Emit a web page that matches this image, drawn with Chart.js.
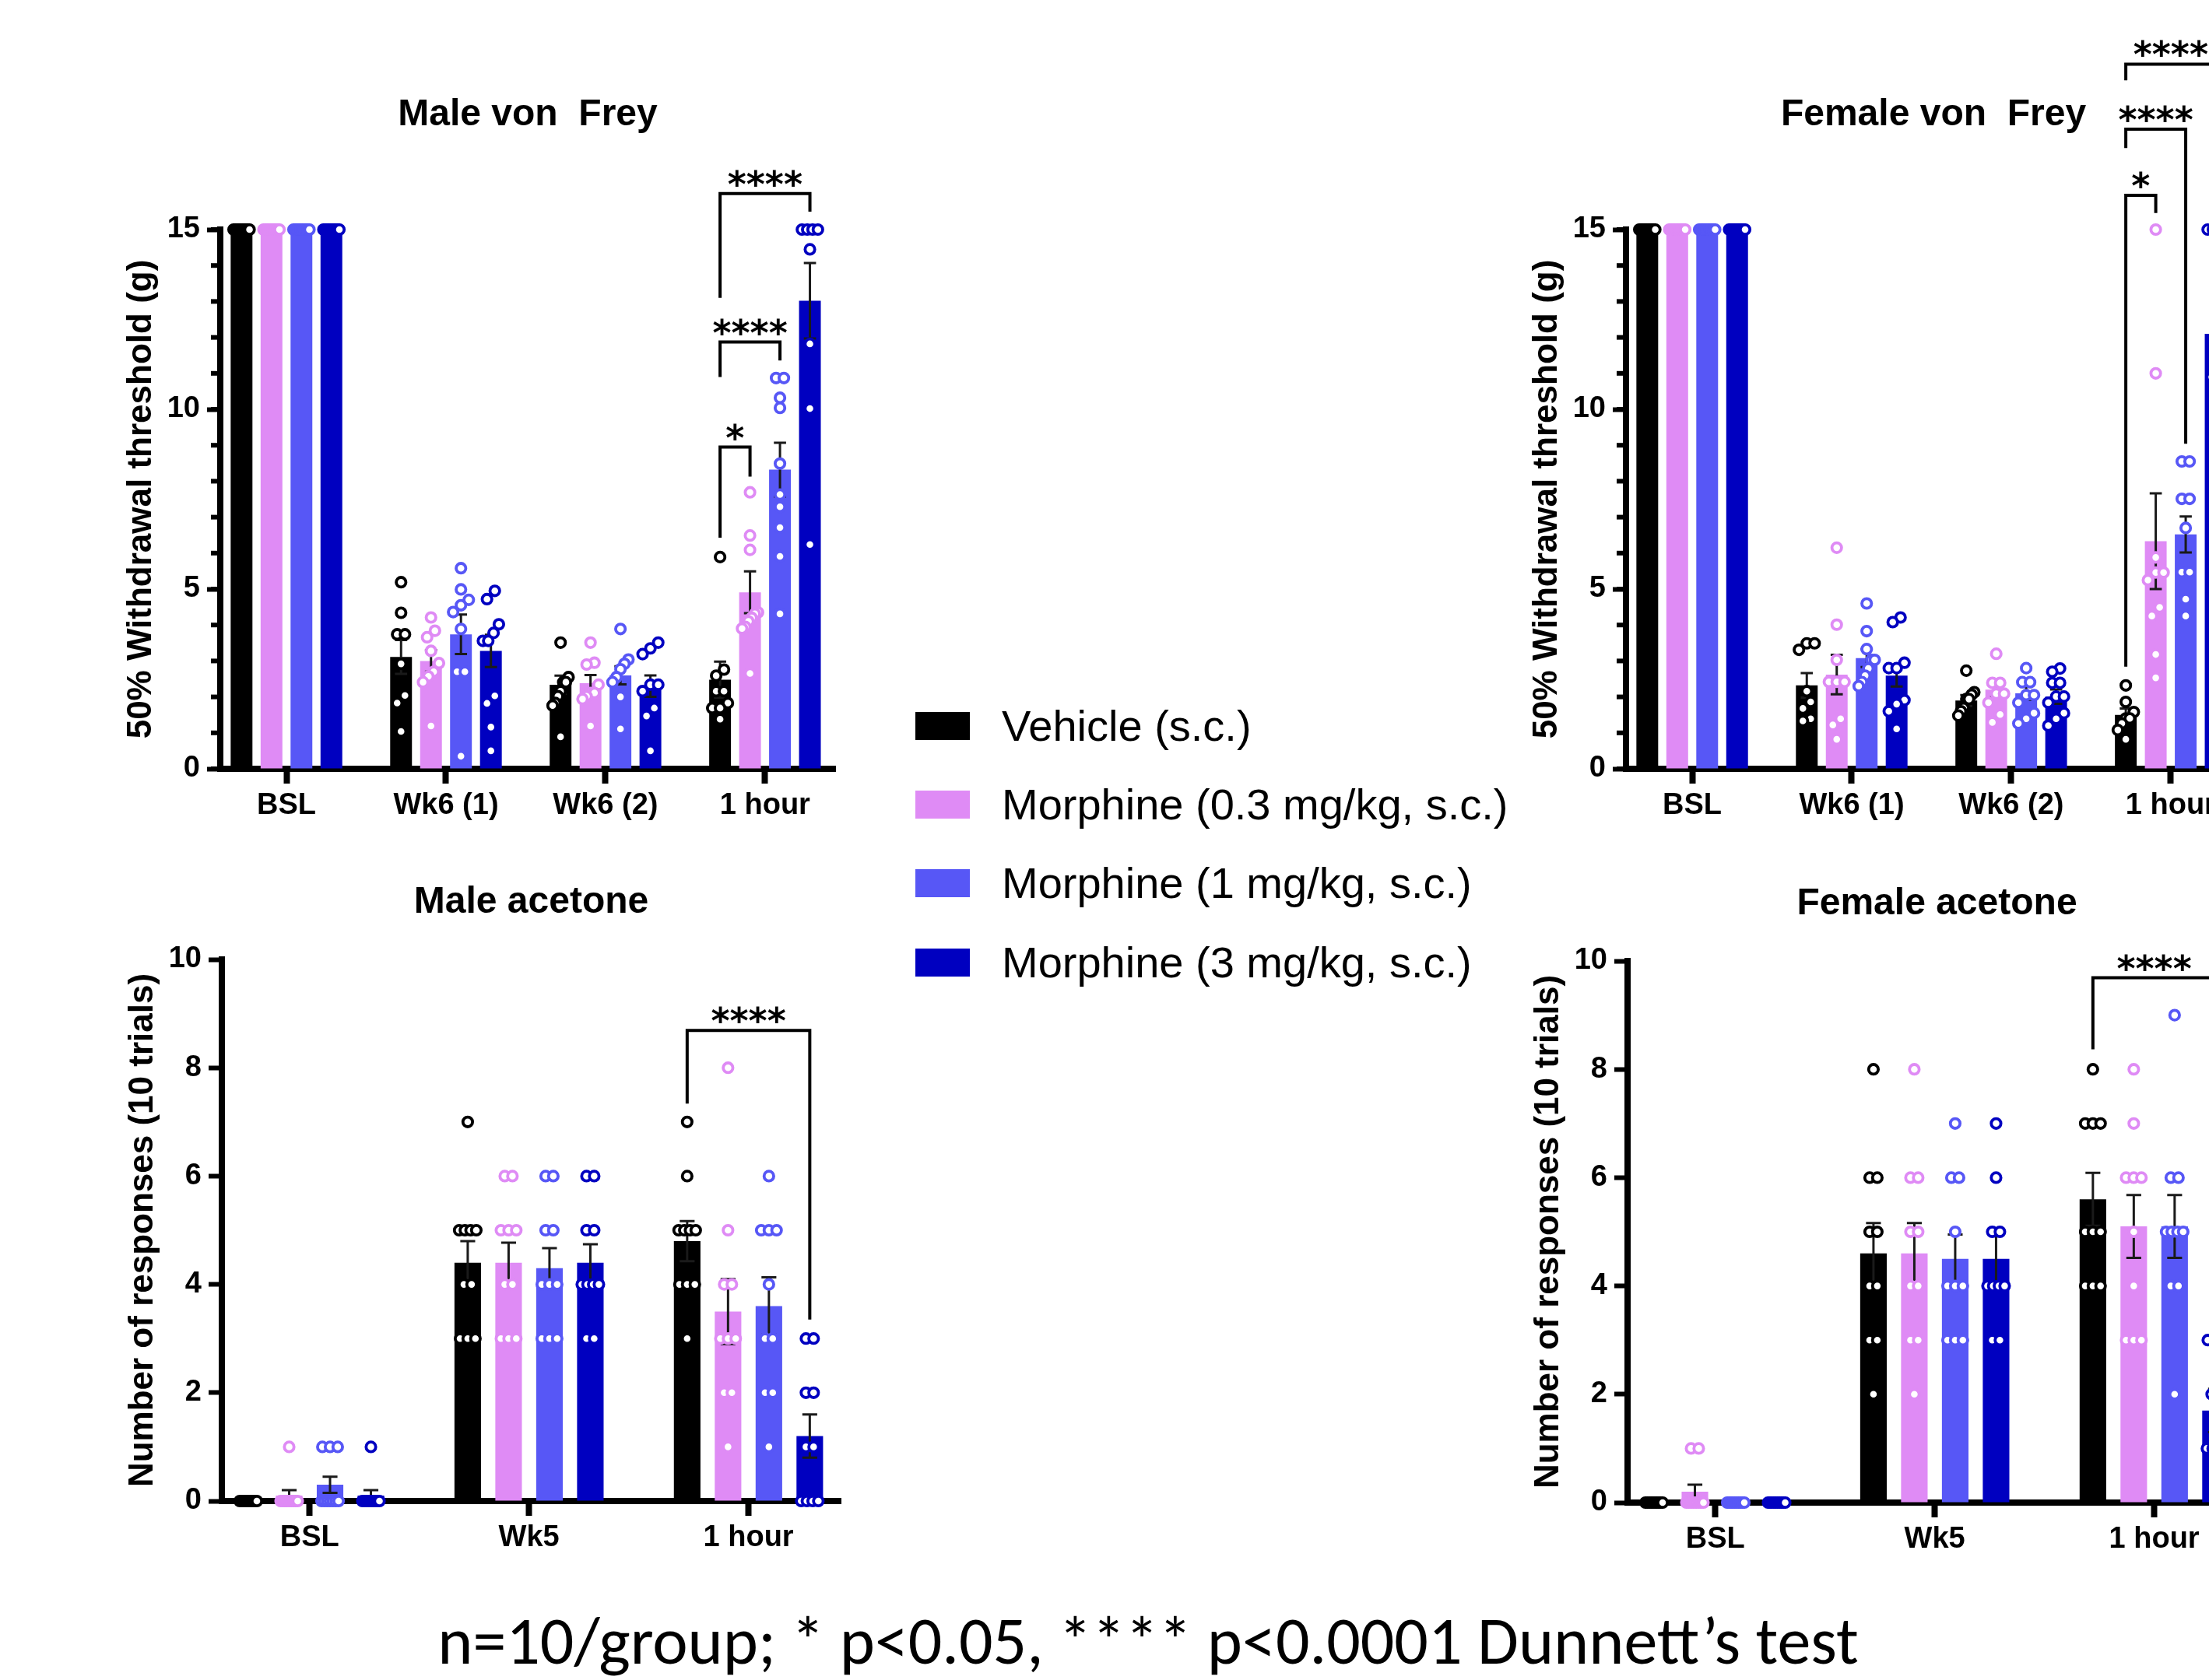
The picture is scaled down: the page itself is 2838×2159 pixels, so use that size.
<!DOCTYPE html>
<html>
<head>
<meta charset="utf-8">
<title>Morphine: von Frey and acetone</title>
<script src="https://cdn.jsdelivr.net/npm/chart.js@4.4.1/dist/chart.umd.min.js"></script>
<style>
  html, body { margin: 0; padding: 0; background: #fff; overflow: hidden; }
  body { position: relative; width: 2838px; height: 2159px; }
  canvas { position: absolute; }
  #legend { position: absolute; left: 1176px; top: 882px; font: 56px "Liberation Sans", Arial, sans-serif; color: #000; }
  .row { display: flex; align-items: center; height: 101.3px; line-height: 56px; white-space: nowrap; }
  .sw { width: 70px; height: 36px; margin-right: 41px; flex: none; }
  #caption { position: absolute; left: 0; width: 2950px; top: 2066px; text-align: center; font: 86px Carlito, Lato, sans-serif; line-height: 1; color: #000; white-space: nowrap; }
</style>
</head>
<body>
<canvas id="maleVF"></canvas>
<canvas id="femaleVF"></canvas>
<canvas id="maleAc"></canvas>
<canvas id="femaleAc"></canvas>
<div id="legend"></div>
<div id="caption">n=10/group; * p&lt;0.05, **** p&lt;0.0001 Dunnett’s test</div>
<script>
const seriesNames = ["Vehicle (s.c.)", "Morphine (0.3 mg/kg, s.c.)", "Morphine (1 mg/kg, s.c.)", "Morphine (3 mg/kg, s.c.)"];
const seriesColors = ["#000000", "#df8bf5", "#5757f6", "#0000c0"];

const vfLabels = ["BSL", "Wk6 (1)", "Wk6 (2)", "1 hour"];
const acLabels = ["BSL", "Wk5", "1 hour"];
const vfTicks = [0, 5, 10, 15];
const acTicks = [0, 2, 4, 6, 8, 10];

// Male von Frey: bar means, SEM, individual animals (series x category)
const maleVfMeans = [
  [15, 3.11, 2.34, 2.48],
  [15, 3.00, 2.38, 4.91],
  [15, 3.74, 2.60, 8.32],
  [15, 3.28, 2.30, 13.02]
];
const maleVfSem = [
  [0, 0.47, 0.25, 0.50],
  [0, 0.30, 0.23, 0.58],
  [0, 0.55, 0.25, 0.75],
  [0, 0.45, 0.30, 1.05]
];
const maleVfPoints = [
  [[15, 15, 15, 15, 15, 15, 15, 15, 15, 15], [5.19, 4.34, 3.74, 3.74, 2.92, 2.04, 1.83, 1.04], [3.51, 2.55, 2.41, 2.41, 2.16, 2.02, 1.83, 1.76, 0.89], [5.89, 2.76, 2.59, 2.16, 2.16, 1.83, 1.69, 1.69, 1.38]],
  [[15, 15, 15, 15, 15, 15, 15, 15, 15, 15], [4.21, 3.84, 3.66, 3.28, 2.94, 2.70, 2.57, 2.41, 1.19], [3.51, 2.95, 2.90, 2.34, 2.11, 2.11, 2.02, 1.94, 1.19], [7.69, 6.49, 6.09, 4.35, 4.31, 4.20, 4.10, 3.95, 3.90, 2.65]],
  [[15, 15, 15, 15, 15, 15, 15, 15, 15, 15], [5.58, 4.99, 4.70, 4.55, 4.36, 3.89, 2.70, 2.70, 0.35], [3.89, 3.04, 2.92, 2.77, 2.55, 2.41, 2.00, 1.11], [10.87, 10.87, 10.32, 10.04, 8.49, 7.63, 7.29, 6.71, 5.91, 4.31]],
  [[15, 15, 15, 15, 15, 15, 15, 15, 15, 15], [4.95, 4.72, 4.02, 3.78, 3.56, 3.56, 2.03, 1.82, 1.16, 0.50], [3.51, 3.35, 3.19, 2.34, 2.34, 2.16, 1.69, 1.47, 0.50], [15, 15, 15, 15, 14.45, 11.82, 10.02, 6.24]]
];
const maleVfBrackets = [
  { cat: 3, from: 0, to: 1, top: 8.95, left: 6.43, right: 8.13, label: "*" },
  { cat: 3, from: 0, to: 2, top: 11.87, left: 10.9, right: 11.36, label: "****" },
  { cat: 3, from: 0, to: 3, top: 16.0, left: 13.1, right: 15.5, label: "****" }
];

// Female von Frey
const femaleVfMeans = [
  [15, 2.32, 1.90, 1.50],
  [15, 2.62, 2.20, 6.33],
  [15, 3.08, 2.10, 6.52],
  [15, 2.59, 2.01, 12.1]
];
const femaleVfSem = [
  [0, 0.34, 0.15, 0.18],
  [0, 0.55, 0.20, 1.33],
  [0, 0.25, 0.18, 0.50],
  [0, 0.30, 0.20, 1.00]
];
const femaleVfPoints = [
  [[15, 15, 15, 15, 15, 15, 15, 15, 15, 15], [3.49, 3.49, 3.31, 2.16, 1.86, 1.68, 1.39, 1.33], [2.73, 2.13, 2.06, 1.94, 1.94, 1.69, 1.60, 1.48], [2.32, 1.86, 1.58, 1.40, 1.40, 1.26, 1.08, 0.82]],
  [[15, 15, 15, 15, 15, 15, 15, 15, 15, 15], [6.15, 4.01, 3.03, 2.42, 2.42, 2.42, 1.39, 1.22, 0.82], [3.20, 2.39, 2.39, 2.09, 2.09, 1.84, 1.51, 1.29], [15, 11, 5.88, 5.46, 5.46, 5.25, 4.49, 4.25, 3.18, 2.53]],
  [[15, 15, 15, 15, 15, 15, 15, 15, 15, 15], [4.60, 3.83, 3.33, 3.03, 3.03, 2.79, 2.59, 2.41, 2.30], [2.80, 2.41, 2.41, 2.05, 2.05, 1.84, 1.55, 1.39, 1.26], [8.55, 8.55, 7.51, 7.51, 6.70, 5.47, 5.47, 4.72, 4.25]],
  [[15, 15, 15, 15, 15, 15, 15, 15, 15, 15], [4.21, 4.08, 2.95, 2.80, 2.80, 1.91, 1.80, 1.60, 1.11], [2.79, 2.70, 2.39, 2.39, 2.01, 2.01, 1.84, 1.55, 1.39, 1.20], [15, 15, 15, 15, 11.5, 10.9, 10.9, 10.2, 9.4, 8.2]]
];
const femaleVfBrackets = [
  { cat: 3, from: 0, to: 1, top: 15.95, left: 2.84, right: 15.46, label: "*" },
  { cat: 3, from: 0, to: 2, top: 17.79, left: 17.27, right: 9.04, label: "****" },
  { cat: 3, from: 0, to: 3, top: 19.6, left: 19.15, right: 15.6, label: "****" }
];

// Male acetone
const maleAcMeans = [
  [0, 4.4, 4.8],
  [0.1, 4.4, 3.5],
  [0.3, 4.3, 3.6],
  [0.1, 4.4, 1.2]
];
const maleAcSem = [
  [0, 0.40, 0.37],
  [0.1, 0.37, 0.60],
  [0.15, 0.37, 0.53],
  [0.1, 0.34, 0.40]
];
const maleAcPoints = [
  [[0, 0, 0, 0, 0, 0, 0, 0, 0, 0], [7, 5, 5, 5, 5, 4, 4, 3, 3, 3], [7, 6, 5, 5, 5, 5, 4, 4, 4, 3]],
  [[1, 0, 0, 0, 0, 0, 0, 0, 0, 0], [6, 6, 5, 5, 5, 4, 4, 3, 3, 3], [8, 5, 4, 4, 3, 3, 3, 2, 2, 1]],
  [[1, 1, 1, 0, 0, 0, 0, 0, 0, 0], [6, 6, 5, 5, 4, 4, 4, 3, 3, 3], [6, 5, 5, 5, 4, 3, 3, 2, 2, 1]],
  [[1, 0, 0, 0, 0, 0, 0, 0, 0, 0], [6, 6, 5, 5, 4, 4, 4, 4, 3, 3], [3, 3, 2, 2, 1, 1, 0, 0, 0, 0]]
];
const maleAcBrackets = [
  { cat: 2, from: 0, to: 3, top: 8.69, left: 7.34, right: 3.35, label: "****" }
];

// Female acetone
const femaleAcMeans = [
  [0, 4.6, 5.6],
  [0.2, 4.6, 5.1],
  [0, 4.5, 5.1],
  [0, 4.5, 1.7]
];
const femaleAcSem = [
  [0, 0.56, 0.49],
  [0.13, 0.56, 0.58],
  [0, 0.45, 0.58],
  [0, 0.45, 0.40]
];
const femaleAcPoints = [
  [[0, 0, 0, 0, 0, 0, 0, 0, 0, 0], [8, 6, 6, 5, 5, 4, 4, 3, 3, 2], [8, 7, 7, 7, 5, 5, 5, 4, 4, 4]],
  [[1, 1, 0, 0, 0, 0, 0, 0, 0, 0], [8, 6, 6, 5, 5, 4, 4, 3, 3, 2], [8, 7, 6, 6, 6, 5, 4, 3, 3, 3]],
  [[0, 0, 0, 0, 0, 0, 0, 0, 0, 0], [7, 6, 6, 5, 4, 4, 4, 3, 3, 3], [9, 6, 6, 5, 5, 5, 5, 4, 4, 2]],
  [[0, 0, 0, 0, 0, 0, 0, 0, 0, 0], [7, 6, 5, 5, 4, 4, 4, 4, 3, 3], [3, 3, 3, 2, 2, 1, 1, 1, 1, 0]]
];
const femaleAcBrackets = [
  { cat: 2, from: 0, to: 3, top: 9.69, left: 8.37, right: 3.4, label: "****" }
];

Chart.defaults.font.family = "'Liberation Sans', Arial, sans-serif";
Chart.defaults.color = "#000";

// SEM whiskers on top of each bar
const errorBars = {
  id: "errorBars",
  afterDatasetDraw(chart, args) {
    const ds = chart.data.datasets[args.index];
    if (!ds.sem) return;
    const y = chart.scales.y;
    const ctx = chart.ctx;
    ctx.save();
    ctx.strokeStyle = "#1a1a1a";
    ctx.lineWidth = 3;
    args.meta.data.forEach((bar, i) => {
      const e = ds.sem[i];
      if (!e) return;
      const m = ds.data[i].y;
      const top = y.getPixelForValue(m + e);
      const bot = y.getPixelForValue(m - e);
      const cw = bar.width * 0.28;
      ctx.beginPath();
      ctx.moveTo(bar.x, top); ctx.lineTo(bar.x, bot);
      ctx.moveTo(bar.x - cw, top); ctx.lineTo(bar.x + cw, top);
      ctx.moveTo(bar.x - cw, bot); ctx.lineTo(bar.x + cw, bot);
      ctx.stroke();
    });
    ctx.restore();
  }
};

// significance brackets, positioned from the bars and the y scale
const sigBrackets = {
  id: "sigBrackets",
  afterDraw(chart, args, opts) {
    const y = chart.scales.y;
    const ctx = chart.ctx;
    (opts.items || []).forEach(b => {
      const x1 = chart.getDatasetMeta(b.from).data[b.cat].x;
      const x2 = chart.getDatasetMeta(b.to).data[b.cat].x;
      const yt = y.getPixelForValue(b.top);
      ctx.save();
      ctx.strokeStyle = "#000";
      ctx.lineWidth = 4;
      ctx.beginPath();
      ctx.moveTo(x1, y.getPixelForValue(b.left));
      ctx.lineTo(x1, yt);
      ctx.lineTo(x2, yt);
      ctx.lineTo(x2, y.getPixelForValue(b.right));
      ctx.stroke();
      ctx.fillStyle = "#000";
      ctx.font = "bold 46px 'DejaVu Sans', 'Liberation Sans', sans-serif";
      ctx.textAlign = "center";
      ctx.textBaseline = "alphabetic";
      ctx.fillText(b.label, (x1 + x2) / 2, yt + 4);
      ctx.restore();
    });
  }
};

// short unlabelled ticks between the labelled ones
const minorTicks = {
  id: "minorTicks",
  afterDraw(chart, args, opts) {
    if (!opts.step) return;
    const y = chart.scales.y;
    const ctx = chart.ctx;
    const x0 = chart.chartArea.left - 4;
    ctx.save();
    ctx.strokeStyle = "#000";
    ctx.lineWidth = 6;
    for (let v = y.min; v <= y.max; v += opts.step) {
      const py = y.getPixelForValue(v);
      ctx.beginPath();
      ctx.moveTo(x0 - 8, py);
      ctx.lineTo(x0, py);
      ctx.stroke();
    }
    ctx.restore();
  }
};

// spread points with (nearly) equal values side by side, like a scatter dot plot
function spread(values, center, step, span, tol) {
  const order = values.map((v, i) => i).sort((a, b) => values[a] - values[b]);
  const xs = new Array(values.length);
  let group = [];
  const flush = () => {
    const k = group.length;
    const s = k > 1 ? Math.min(step, span / (k - 1)) : 0;
    group.forEach((idx, j) => { xs[idx] = center + (j - (k - 1) / 2) * s; });
    group = [];
  };
  order.forEach(idx => {
    if (group.length && values[idx] - values[group[group.length - 1]] > tol) flush();
    group.push(idx);
  });
  flush();
  return xs;
}

function makePanel(id, p) {
  const canvas = document.getElementById(id);
  const left = p.area.left - 200;
  const top = p.canvasTop;
  const width = p.area.right - left + 40;
  const height = p.area.bottom - top + 110;
  canvas.width = width;
  canvas.height = height;
  canvas.style.left = left + "px";
  canvas.style.top = top + "px";
  canvas.style.width = width + "px";
  canvas.style.height = height + "px";

  const n = seriesNames.length;
  const datasets = [];
  seriesNames.forEach((name, s) => {
    datasets.push({
      type: "bar",
      label: name,
      order: 2,
      data: p.labels.map((c, i) => ({ x: i, y: p.means[s][i] })),
      sem: p.sem[s],
      backgroundColor: seriesColors[s],
      borderWidth: 0,
      categoryPercentage: p.catPct,
      barPercentage: p.barPct
    });
  });
  seriesNames.forEach((name, s) => {
    const pts = [];
    p.points[s].forEach((vals, i) => {
      const center = i + p.catPct * (s + 0.5 - n / 2) / n;
      const xs = spread(vals, center, p.dotStep, p.dotSpan, p.tol);
      vals.forEach((v, k) => pts.push({ x: xs[k], y: v }));
    });
    datasets.push({
      type: "scatter",
      label: name,
      order: 1,
      data: pts,
      clip: false,
      pointRadius: 6.2,
      pointBorderWidth: 3.8,
      pointBackgroundColor: "#ffffff",
      pointBorderColor: seriesColors[s]
    });
  });

  const titleTop = p.titleY - top - 28.8;
  new Chart(canvas, {
    type: "bar",
    data: { datasets },
    options: {
      responsive: false,
      animation: false,
      events: [],
      layout: { padding: { left: 68, right: 40, top: 0, bottom: 20 } },
      plugins: {
        legend: { display: false },
        tooltip: { enabled: false },
        title: {
          display: true,
          text: p.title,
          fullSize: false,
          color: "#000",
          font: { size: 48, weight: "bold" },
          padding: { top: titleTop, bottom: p.area.top - top - titleTop - 57.6 }
        },
        sigBrackets: { items: p.brackets },
        minorTicks: { step: p.minorStep }
      },
      scales: {
        x: {
          type: "linear",
          min: p.xMin,
          max: p.xMax,
          bounds: "data",
          offset: false,
          afterBuildTicks: sc => { sc.ticks = p.labels.map((c, i) => ({ value: i })); },
          afterFit: sc => { sc.height = 90; },
          ticks: {
            callback: (v, i) => p.labels[i],
            font: { size: 38, weight: "bold" },
            color: "#000",
            padding: 6,
            maxRotation: 0,
            autoSkip: false
          },
          grid: { offset: false, drawOnChartArea: false, tickLength: 19, tickWidth: 8, tickColor: "#000" },
          border: { display: true, width: 8, color: "#000" }
        },
        y: {
          min: 0,
          max: p.yTicks[p.yTicks.length - 1],
          afterBuildTicks: sc => { sc.ticks = p.yTicks.map(v => ({ value: v })); },
          afterFit: sc => { sc.width = 132; },
          ticks: { font: { size: 38, weight: "bold" }, color: "#000", padding: 9 },
          grid: { drawOnChartArea: false, tickLength: 17, tickWidth: 6, tickColor: "#000" },
          border: { display: true, width: 8, color: "#000" },
          title: {
            display: true,
            text: p.yTitle,
            color: "#000",
            font: { size: 44, weight: "bold" },
            padding: { top: 4, bottom: 0 }
          }
        }
      }
    },
    plugins: [errorBars, sigBrackets, minorTicks]
  });
}

const shiftX = 1806;
const vfCommon = { labels: vfLabels, yTicks: vfTicks, yTitle: "50% Withdrawal threshold (g)", xMin: -0.415, xMax: 3.44,
  catPct: 0.751, barPct: 0.727, dotStep: 0.049, dotSpan: 0.1, tol: 0.25, minorStep: 1, canvasTop: 0, titleY: 148 };
const acCommon = { labels: acLabels, yTicks: acTicks, yTitle: "Number of responses (10 trials)", xMin: -0.40, xMax: 2.42,
  catPct: 0.745, barPct: 0.65, dotStep: 0.035, dotSpan: 0.078, tol: 0.5, minorStep: 0, canvasTop: 1040, titleY: 1160 };

makePanel("maleVF", Object.assign({}, vfCommon, {
  title: "Male von  Frey", area: { left: 283, top: 295, right: 1073, bottom: 988 },
  means: maleVfMeans, sem: maleVfSem, points: maleVfPoints, brackets: maleVfBrackets }));
makePanel("femaleVF", Object.assign({}, vfCommon, {
  title: "Female von  Frey", area: { left: 283 + shiftX, top: 295, right: 1073 + shiftX, bottom: 988 },
  means: femaleVfMeans, sem: femaleVfSem, points: femaleVfPoints, brackets: femaleVfBrackets }));
makePanel("maleAc", Object.assign({}, acCommon, {
  title: "Male acetone", area: { left: 285, top: 1233, right: 1080, bottom: 1929 },
  means: maleAcMeans, sem: maleAcSem, points: maleAcPoints, brackets: maleAcBrackets }));
makePanel("femaleAc", Object.assign({}, acCommon, {
  title: "Female acetone", area: { left: 285 + shiftX, top: 1235, right: 1080 + shiftX, bottom: 1931 },
  titleY: 1162,
  means: femaleAcMeans, sem: femaleAcSem, points: femaleAcPoints, brackets: femaleAcBrackets }));

// shared legend between the panels
const legend = document.getElementById("legend");
seriesNames.forEach((name, s) => {
  const row = document.createElement("div");
  row.className = "row";
  const sw = document.createElement("span");
  sw.className = "sw";
  sw.style.background = seriesColors[s];
  const txt = document.createElement("span");
  txt.textContent = name;
  row.appendChild(sw);
  row.appendChild(txt);
  legend.appendChild(row);
});
</script>
</body>
</html>
